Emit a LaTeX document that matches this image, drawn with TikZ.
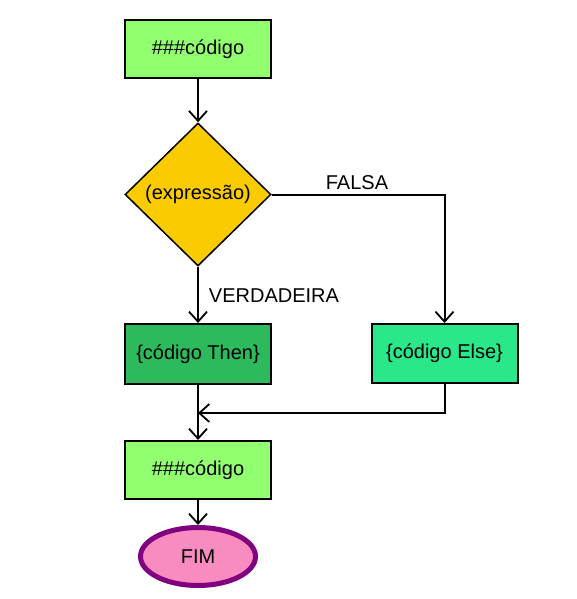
\documentclass[tikz,border=0pt]{standalone}
\usepackage{fontspec}
\setmainfont{Liberation Sans}
\usetikzlibrary{shapes.geometric,arrows.meta}
\definecolor{verdeclaro}{RGB}{146,255,112}
\definecolor{verdethen}{RGB}{44,186,92}
\definecolor{verdeelse}{RGB}{42,232,138}
\definecolor{ouro}{RGB}{250,204,0}
\definecolor{rosa}{RGB}{248,140,192}
\definecolor{roxo}{RGB}{128,0,128}
\begin{document}
\begin{tikzpicture}[x=1pt, y=-1pt,
            every node/.style={font=\fontsize{20}{24}\selectfont},
            caixa/.style={rectangle, draw=black, line width=2pt, minimum width=146pt, minimum height=58pt},
            decisao/.style={diamond, draw=black, line width=1.5pt, fill=ouro, inner sep=0pt, minimum width=146pt, minimum height=143pt},
            fim/.style={ellipse, draw=roxo, line width=5pt, fill=rosa, minimum width=115pt, minimum height=58pt},
            seta/.style={line width=2pt, -{Straight Barb[length=10pt,width=18pt,line width=1.8pt]}}
        ]
        \useasboundingbox (0,0) rectangle (576,599);
        \node[caixa, fill=verdeclaro] (inicio) at (198,49) {\#\#\#código};
        \node[decisao] (expr) at (198,194.5) {(expressão)};
        \node[caixa, fill=verdethen, minimum height=60pt] (then) at (198,354) {\{código Then\}};
        \node[caixa, fill=verdeelse, minimum height=59pt] (else) at (444.5,353.5) {\{código Else\}};
        \node[caixa, fill=verdeclaro] (depois) at (198,470) {\#\#\#código};
        \node[fim] (final) at (198,556.5) {FIM};
        \coordinate (juncao) at (198,413);

        \node (falsa) at (357,183) {FALSA};
        \node (verdadeira) at (274,296) {VERDADEIRA};

        \draw[seta] (inicio) -- (expr);
        \draw[seta] (expr) -- (then);
        \draw[seta] (expr.east) -| (else.north);
        \draw[seta] (then) -- (depois);
        \draw[seta] (else.south) |- (juncao);
        \draw[seta] (depois) -- (final);
    \end{tikzpicture}
\end{document}
